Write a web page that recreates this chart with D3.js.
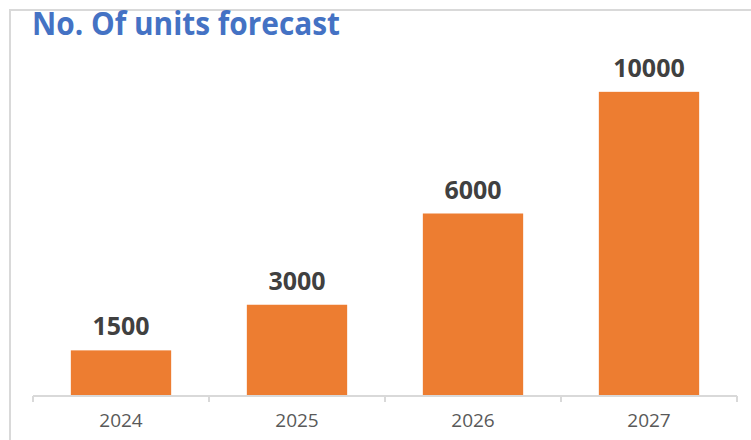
<!DOCTYPE html>
<html>
<head>
<meta charset="utf-8">
<script src="https://cdn.jsdelivr.net/npm/d3@7"></script>
<style>
  body { margin: 0; background: #fff; }
  svg { display: block; }
</style>
</head>
<body>
<svg id="chart" width="751" height="440"></svg>
<script>
const years = ["2024", "2025", "2026", "2027"];
const units = [1500, 3000, 6000, 10000];

const width = 751, height = 440;
const margin = { top: 31, right: 14, bottom: 44, left: 33 };
const svg = d3.select("#chart");

// frame (top + left edges)
svg.append("path")
    .attr("d", `M10,${height} L10,10 L${width},10`)
    .attr("fill", "none")
    .attr("stroke", "#d9d9d9")
    .attr("stroke-width", 2);

// title
svg.append("text")
    .attr("x", 32)
    .attr("y", 35)
    .attr("textLength", 308)
    .attr("lengthAdjust", "spacingAndGlyphs")
    .style("font-family", "'Open Sans', sans-serif")
    .style("font-weight", 700)
    .style("font-size", "32px")
    .attr("fill", "#4472c4")
    .text("No. Of units forecast");

const x = d3.scaleBand()
    .domain(years)
    .range([margin.left, width - margin.right])
    .paddingInner(0.43)
    .paddingOuter(0.215);

const y = d3.scaleLinear()
    .domain([0, 12000])
    .range([height - margin.bottom, margin.top]);

const baseY = y(0);

// bars
svg.selectAll(".bar")
    .data(units)
    .enter()
    .append("rect")
    .attr("class", "bar")
    .attr("x", (d, i) => x(years[i]))
    .attr("y", d => y(d))
    .attr("width", x.bandwidth())
    .attr("height", d => baseY - y(d))
    .attr("fill", "#ed7d31");

// value labels
svg.selectAll(".bar-label")
    .data(units)
    .enter()
    .append("text")
    .attr("class", "bar-label")
    .attr("x", (d, i) => x(years[i]) + x.bandwidth() / 2)
    .attr("y", d => y(d) - 15)
    .attr("text-anchor", "middle")
    .style("font-family", "'Open Sans', sans-serif")
    .style("font-weight", 700)
    .style("font-size", "25px")
    .attr("fill", "#404040")
    .text(d => d);

// x axis: line + ticks at category boundaries
const axisG = svg.append("g").attr("transform", `translate(0,${baseY})`);
axisG.append("line")
    .attr("x1", margin.left).attr("x2", width - margin.right)
    .attr("stroke", "#d9d9d9").attr("stroke-width", 2);

const bounds = d3.range(years.length + 1).map(i => margin.left + i * (width - margin.left - margin.right) / years.length);
axisG.selectAll(".tick-mark")
    .data(bounds)
    .enter()
    .append("line")
    .attr("class", "tick-mark")
    .attr("x1", d => d).attr("x2", d => d)
    .attr("y1", 0).attr("y2", 6)
    .attr("stroke", "#d9d9d9").attr("stroke-width", 2);

axisG.selectAll(".tick-label")
    .data(years)
    .enter()
    .append("text")
    .attr("class", "tick-label")
    .attr("x", d => x(d) + x.bandwidth() / 2)
    .attr("y", 31)
    .attr("text-anchor", "middle")
    .style("font-family", "'Open Sans', sans-serif")
    .style("font-size", "19px")
    .attr("fill", "#595959")
    .text(d => d);
</script>
</body>
</html>
